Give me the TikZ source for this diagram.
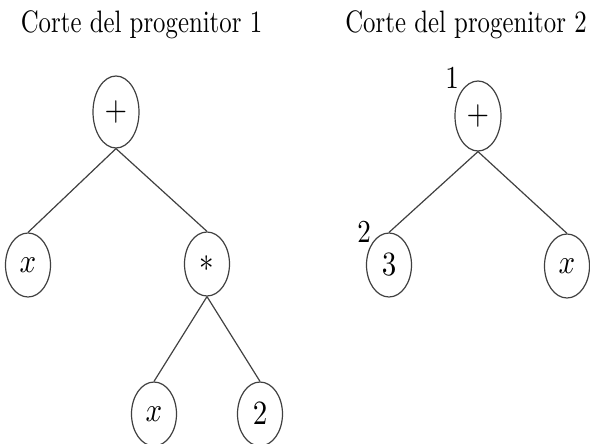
\documentclass[tikz,border=0pt]{standalone}
\usetikzlibrary{shapes.geometric}
% set text at 10pt design size, then stretch it to the drawing's scale
\newcommand{\treetext}[3]{\scalebox{#1}[#2]{#3}}
\begin{document}
\begin{tikzpicture}[x=1pt,y=-1pt,
  vertex/.style={ellipse, draw=black!75, line width=1.2pt, inner sep=0pt,
    minimum width=45pt, minimum height=64pt, font=\normalsize},
  rootvertex/.style={vertex, minimum width=46pt, minimum height=72pt},
  branch/.style={draw=black!75, line width=1.2pt},
  heading/.style={inner sep=0pt, anchor=base, font=\normalsize},
  cutmark/.style={inner sep=0pt, font=\normalsize}]
\useasboundingbox (0,0) rectangle (590,444);

% headings
\node[heading] (h1) at (141.5,33) {\treetext{2.48}{3.1}{Corte del progenitor 1}};
\node[heading] (h2) at (466,33) {\treetext{2.48}{3.1}{Corte del progenitor 2}};

% first parent: x + (x * 2)
\node[rootvertex] (a) at (116,112) {\treetext{2.9}{3.4}{$+$}};
\node[vertex] (ax) at (28,265) {\treetext{2.9}{3.4}{$x$}};
\node[vertex] (am) at (207,264) {\treetext{2.9}{3.4}{$*$}};
\node[vertex] (amx) at (154,414) {\treetext{2.9}{3.4}{$x$}};
\node[vertex] (am2) at (260,414) {\treetext{2.9}{3.4}{$2$}};
\draw[branch] (a.south) -- (ax.north);
\draw[branch] (a.south) -- (am.north);
\draw[branch] (am.south) -- (amx.north);
\draw[branch] (am.south) -- (am2.north);

% second parent: 3 + x, with numbered cut points
\node[rootvertex, minimum height=70pt] (b) at (478,116) {\treetext{2.9}{3.4}{$+$}};
\node[vertex] (b3) at (389,265) {\treetext{2.9}{3.4}{$3$}};
\node[vertex] (bx) at (567,266) {\treetext{2.9}{3.4}{$x$}};
\draw[branch] (b.south) -- (b3.north);
\draw[branch] (b.south) -- (bx.north);
\node[cutmark] (c1) at (452,78) {\treetext{2.7}{3.2}{1}};
\node[cutmark] (c2) at (364,232) {\treetext{2.7}{3.2}{2}};
\end{tikzpicture}
\end{document}
